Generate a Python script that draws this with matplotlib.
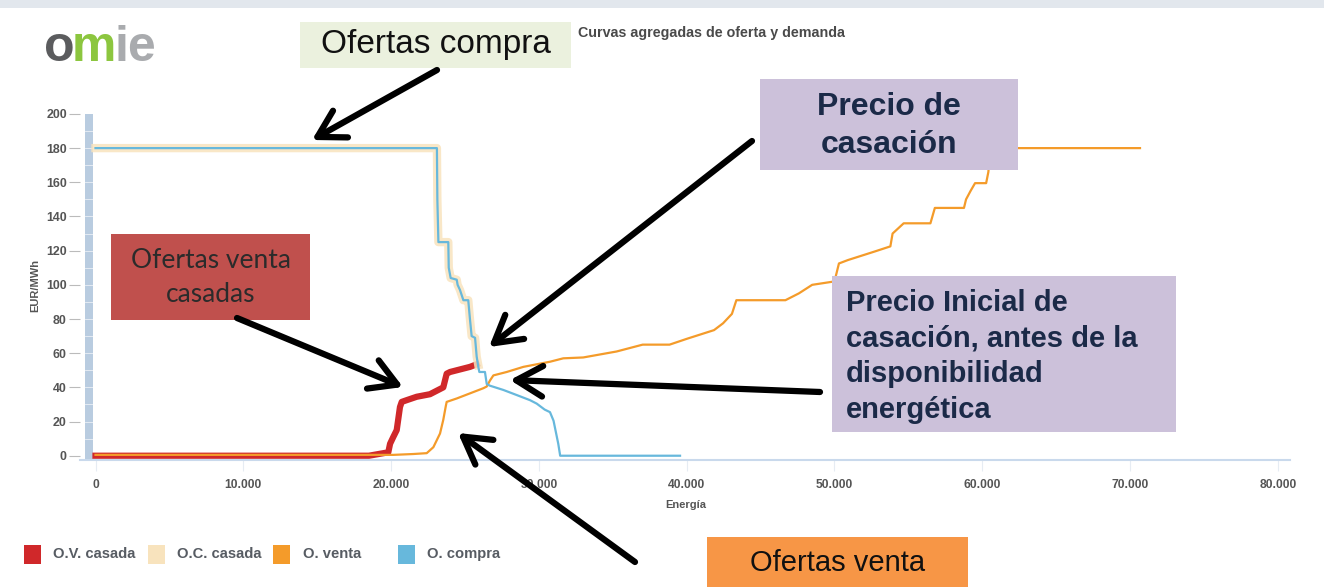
import matplotlib
matplotlib.use("Agg")
import matplotlib.pyplot as plt
from matplotlib.patches import Rectangle, FancyArrowPatch
from matplotlib.ticker import FuncFormatter

# curve data (energy in MWh, price in EUR/MWh)
compra_x = [0, 23100, 23130, 23200, 23870, 23900, 24030, 24440, 24500, 24660, 24890, 25220,
            25340, 25450, 25680, 25790, 25900, 25970, 26350, 26470, 26680, 27590, 28500,
            29400, 29850, 30390, 30750, 30990, 31310, 31440, 39550]
compra_y = [180, 180, 150, 125, 125, 110, 104, 103, 100, 97, 91, 91,
            79.5, 70, 69, 58, 52, 49, 49, 42, 41, 38.5, 35.5,
            32.5, 30.5, 27, 25.5, 20.5, 7, 0, 0]

oc_casada_x = [0, 23100, 23130, 23200, 23870, 23900, 24030, 24440, 24500, 24660, 24890, 25220,
               25340, 25450, 25680, 25790, 25900]
oc_casada_y = [180, 180, 150, 125, 125, 110, 104, 103, 100, 97, 91, 91,
               79.5, 70, 69, 58, 53]

venta_x = [0, 20150, 21500, 22410, 22860, 23310, 23530, 23700, 23760, 24440, 25340, 26240,
           26470, 26690, 26920, 27820, 28950, 30750, 31650, 33000, 35260, 37020, 38840,
           40040, 41850, 42460, 43060, 43360, 46680, 47590, 48490, 50000, 50300, 50910,
           52720, 53780, 53930, 54680, 56490, 56790, 58760, 58900, 59210, 59510, 60260,
           60410, 60550, 70670]
venta_y = [0.5, 0.5, 1, 1.5, 5, 13, 21, 29, 31.5, 33.5, 36.5, 39.5,
           40.5, 44, 47, 49, 52, 55, 57, 57.5, 61, 65, 65,
           68.5, 73.5, 77.5, 83, 91, 91, 95, 100, 102, 112.5, 114.5,
           119.5, 122.5, 130, 136, 136, 145, 145, 150, 155, 159.5, 159.5,
           166, 180, 180]

ov_casada_x = [0, 18500, 19810, 19930, 20150, 20380, 20600, 20720, 21050, 21730, 22630,
               23080, 23530, 23760, 23990, 24890, 25340, 25790]
ov_casada_y = [0, 0, 2, 7, 11, 15, 28.5, 31.5, 32.5, 34.5, 36,
               38, 40, 48, 49, 51, 52, 53.5]

x_ticks = [0, 10000, 20000, 30000, 40000, 50000, 60000, 70000, 80000]
y_ticks = [0, 20, 40, 60, 80, 100, 120, 140, 160, 180, 200]

legend_labels = ["O.V. casada", "O.C. casada", "O. venta", "O. compra"]

RED = "#d0282a"
PEACH = "#f8e3bd"
ORANGE = "#f49b2a"
BLUE = "#67b8dc"
NAVY = "#1b2a48"
LAV = "#ccc1da"

W, H = 1324, 587
SANS = ["Liberation Sans", "DejaVu Sans"]


def fx(x):
    return x / W


def fy(y):
    return 1 - y / H


fig = plt.figure(figsize=(W / 100, H / 100), dpi=100)
fig.patch.set_facecolor("white")

# plot area
ax = fig.add_axes([fx(80), fy(460), (1290 - 80) / W, (460 - 110) / H])
ax.set_xlim(-1049, 80819)
ax.set_ylim(-2.5, 202.3)

ax.plot(ov_casada_x, ov_casada_y, color=RED, lw=4.5, solid_joinstyle="round", zorder=2)
ax.plot(oc_casada_x, oc_casada_y, color=PEACH, lw=6, solid_joinstyle="round", alpha=0.85, zorder=2)
ax.plot(venta_x, venta_y, color=ORANGE, lw=1.6, zorder=3)
ax.plot(compra_x, compra_y, color=BLUE, lw=1.6, zorder=4)

# navigator bar on the left
ax.add_patch(Rectangle((-720, -2.5), 560, 202.5, facecolor="#b9cce0", edgecolor="none", zorder=1))
for v in range(10, 200, 10):
    ax.plot([-720, -160], [v, v], color="white", lw=0.6, alpha=0.7, zorder=1)

for s in ["top", "right", "left"]:
    ax.spines[s].set_visible(False)
ax.spines["bottom"].set_color("#c9d9ec")
ax.spines["bottom"].set_linewidth(1.5)

ax.set_xticks(x_ticks)
ax.set_yticks(y_ticks)
ax.xaxis.set_major_formatter(FuncFormatter(lambda v, p: f"{int(v):,}".replace(",", ".")))
ax.tick_params(axis="x", length=8, color="#e6ecf3", labelsize=8.7, labelcolor="#555555", pad=6)
ax.tick_params(axis="y", length=8, color="#bbbbbb", labelsize=8.9, labelcolor="#555555", pad=1.5)
for lab in ax.get_xticklabels() + ax.get_yticklabels():
    lab.set_fontweight("bold")
    lab.set_family(SANS)

fig.text(fx(686), fy(505), "Energía", ha="center", va="center", fontsize=8,
         fontweight="bold", color="#555555", family=SANS)
fig.text(fx(35), fy(285), "EUR/MWh", ha="center", va="center", rotation=90, fontsize=8,
         fontweight="bold", color="#555555", family=SANS)

# header
fig.add_artist(Rectangle((0, fy(8)), 1, 8 / H, transform=fig.transFigure,
                         facecolor="#e2e7ed", edgecolor="none"))
fig.text(fx(578), fy(33), "Curvas agregadas de oferta y demanda", ha="left", va="center",
         fontsize=10.3, fontweight="bold", color="#4a4a4a", family=SANS)
fig.text(fx(44), fy(61), "o", fontsize=36, fontweight="bold", color="#5b5c5e",
         family=SANS, va="baseline")
fig.text(fx(72), fy(61), "m", fontsize=36, fontweight="bold", color="#8cc63f",
         family=SANS, va="baseline")
fig.text(fx(114), fy(61), "ie", fontsize=36, fontweight="bold", color="#a9abae",
         family=SANS, va="baseline")

# legend
leg_colors = [RED, PEACH, ORANGE, BLUE]
leg_sq = [24, 148, 273, 398]
leg_tx = [53, 177, 303, 427]
for c, sx, tx, lab in zip(leg_colors, leg_sq, leg_tx, legend_labels):
    fig.add_artist(Rectangle((fx(sx), fy(564)), 17 / W, 19 / H, transform=fig.transFigure,
                             facecolor=c, edgecolor="none"))
    fig.text(fx(tx), fy(554), lab, ha="left", va="center", fontsize=10.6, fontweight="bold",
             color="#575c63", family=SANS)


# annotation boxes
def box(x0, y0, x1, y1, color):
    fig.add_artist(Rectangle((fx(x0), fy(y1)), (x1 - x0) / W, (y1 - y0) / H,
                             transform=fig.transFigure, facecolor=color, edgecolor="none",
                             zorder=5))


def arrow(x0, y0, x1, y1):
    fig.add_artist(FancyArrowPatch((fx(x0), fy(y0)), (fx(x1), fy(y1)), transform=fig.transFigure,
                                   arrowstyle="->,head_length=0.95,head_width=0.55",
                                   mutation_scale=20, lw=4.5, color="black",
                                   shrinkA=0, shrinkB=0, zorder=6))


box(300, 22, 571, 68, "#ebf1de")
fig.text(fx(436), fy(45), "Ofertas compra", ha="center", va="center", fontsize=24,
         color="#111111", family=SANS, zorder=7)
arrow(437, 70, 312, 140)

box(760, 79, 1018, 170, LAV)
fig.text(fx(889), fy(107), "Precio de", ha="center", va="center", fontsize=23,
         fontweight="bold", color=NAVY, family=SANS, zorder=7)
fig.text(fx(889), fy(145), "casación", ha="center", va="center", fontsize=23,
         fontweight="bold", color=NAVY, family=SANS, zorder=7)
arrow(752, 141, 489, 347)

box(832, 276, 1176, 432, LAV)
for i, line in enumerate(["Precio Inicial de", "casación, antes de la", "disponibilidad",
                          "energética"]):
    fig.text(fx(846), fy(303 + i * 35.5), line, ha="left", va="center", fontsize=21,
             fontweight="bold", color=NAVY, family=SANS, zorder=7)
arrow(820, 392, 510, 380)

box(111, 234, 310, 320, "#c0504d")
fig.text(fx(211), fy(261), "Ofertas venta", ha="center", va="center", fontsize=19,
         color="#2b2b2b", family=["Lato", "DejaVu Sans"], zorder=7)
fig.text(fx(211), fy(295), "casadas", ha="center", va="center", fontsize=19,
         color="#2b2b2b", family=["Lato", "DejaVu Sans"], zorder=7)
arrow(237, 318, 403, 387)

box(707, 537, 968, 587, "#f79646")
fig.text(fx(838), fy(563), "Ofertas venta", ha="center", va="center", fontsize=21,
         color="#111111", family=SANS, zorder=7)
arrow(635, 562, 458, 433)

fig.savefig("out.png", dpi=100)
